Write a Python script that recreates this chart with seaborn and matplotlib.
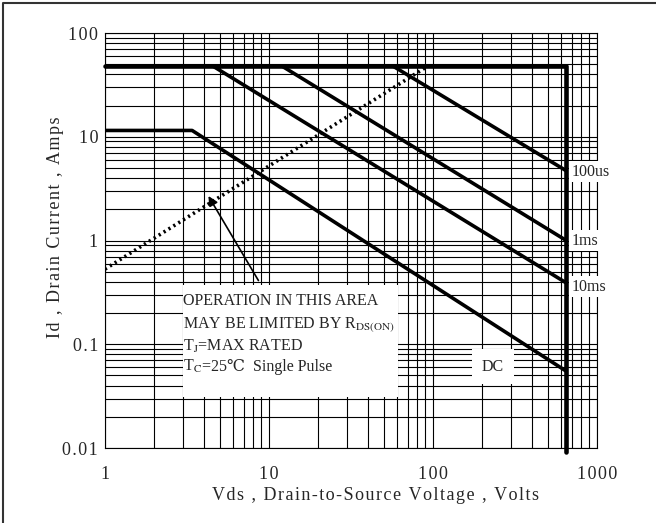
import seaborn as sns
import matplotlib.pyplot as plt
import matplotlib.lines as mlines
import matplotlib.patches as mpatches
from matplotlib.offsetbox import TextArea, HPacker, AnnotationBbox
import pandas as pd

# SOA CURVES (Vds in volts, Id in amps) #
v_limit = [1, 650, 650]
i_limit = [48, 48, 0.0092]
v_100us = [57, 650]
i_100us = [48, 4.7]
v_1ms = [12, 650]
i_1ms = [48, 1.0]
v_10ms = [4.55, 650]
i_10ms = [48, 0.39]
v_dc = [1, 3.4, 650]
i_dc = [11.5, 11.5, 0.055]
v_rds = [1, 93]
i_rds = [0.53, 48]

x_ticks = [1, 10, 100, 1000]
x_labels = ["1", "10", "100", "1000"]
y_ticks = [0.01, 0.1, 1, 10, 100]
y_labels = ["0.01", "0.1", "1", "10", "100"]

curve_names = ["100us", "1ms", "10ms"]
curve_label_i = [4.6, 1.0, 0.36]

HS = "\u200a"  # hair space, the original text is letter-spaced
def spaced(s):
    return HS.join(s)

sns.set_style("white")
serif = ["Liberation Serif", "DejaVu Serif", "DejaVu Sans"]
plt.rcParams["font.family"] = serif
plt.rcParams["mathtext.fontset"] = "stix"

fig = plt.figure(figsize=(6.56, 5.23), dpi=100)
ax = fig.add_axes([0.160, 0.1434, 0.750, 0.7935])

def curve(v, i, lw, **kw):
    df = pd.DataFrame({"V": v, "I": i})
    sns.lineplot(data=df, x="V", y="I", ax=ax, color="black", lw=lw,
                 sort=False, estimator=None, zorder=4, **kw)

curve(v_limit, i_limit, 3.3, clip_on=False)
curve(v_100us, i_100us, 2.6)
curve(v_1ms, i_1ms, 2.6)
curve(v_10ms, i_10ms, 2.6)
curve(v_dc, i_dc, 2.6)
curve(v_rds, i_rds, 2.6, linestyle=(0, (0.6, 1.0)))

ax.set_xscale("log")
ax.set_yscale("log")
ax.set_xlim(1, 1000)
ax.set_ylim(0.01, 100)
ax.set_xticks(x_ticks, [spaced(t) for t in x_labels])
ax.set_yticks(y_ticks, [spaced(t) for t in y_labels])
ax.minorticks_on()
ax.tick_params(which="both", length=0, labelsize=13)
ax.tick_params(axis="x", pad=13)
ax.tick_params(axis="y", pad=5)
ax.grid(True, which="both", color="black", lw=0.8)
for s in ax.spines.values():
    s.set_color("black")
    s.set_linewidth(0.8)

ax.set_xlabel(spaced("Vds , Drain-to-Source Voltage , Volts"), fontsize=13)
ax.set_ylabel(spaced("Id , Drain Current , Amps"), fontsize=13)
ax.xaxis.set_label_coords(0.549, -0.093)
ax.yaxis.set_label_coords(-0.083, 0.531)

# note box #
ax.add_patch(mpatches.Rectangle((0.1585, 0.123), 0.437, 0.27, transform=ax.transAxes,
                                facecolor="white", edgecolor="none", zorder=3))
note_lines = ["OPERATION IN THIS AREA",
              "MAY BE LIMITED BY R$_{\\mathrm{DS(ON)}}$",
              "T$_\\mathrm{J}$=MAX RATED"]
note_y = [0.3446, 0.2892, 0.2337]
for txt, yy in zip(note_lines, note_y):
    ax.text(0.1585, yy, txt, transform=ax.transAxes, fontsize=11.5,
            va="baseline", ha="left", zorder=5)
tc = TextArea("T$_\\mathrm{C}$", textprops=dict(fontsize=11.5, family=serif))
rest = TextArea("=25\u2103  Single Pulse", textprops=dict(fontsize=11.5, family=serif))
line4 = HPacker(children=[tc, rest], align="baseline", pad=0, sep=0)
ab = AnnotationBbox(line4, (0.1585, 0.197), xycoords=ax.transAxes,
                    box_alignment=(0, 0.5), frameon=False, pad=0, zorder=5)
ax.add_artist(ab)

ax.annotate("", xy=(4.19, 2.83), xytext=(8.8, 0.39),
            arrowprops=dict(arrowstyle="-|>", color="black", lw=1.2, mutation_scale=14),
            zorder=5)

for name, iv in zip(curve_names, curve_label_i):
    ax.text(700, iv, name, fontsize=11.5, va="center", ha="left", zorder=5,
            bbox=dict(facecolor="white", edgecolor="none", pad=2))
ax.text(232, 0.061, "DC", fontsize=11.5, va="center", ha="center", zorder=5,
        bbox=dict(facecolor="white", edgecolor="none", pad=7))

fig.add_artist(mlines.Line2D([0.0046, 0.0046, 1.0], [0.0, 0.9943, 0.9943],
                             transform=fig.transFigure, color="#333333", lw=1.5))

plt.savefig("out.png", dpi=100)
